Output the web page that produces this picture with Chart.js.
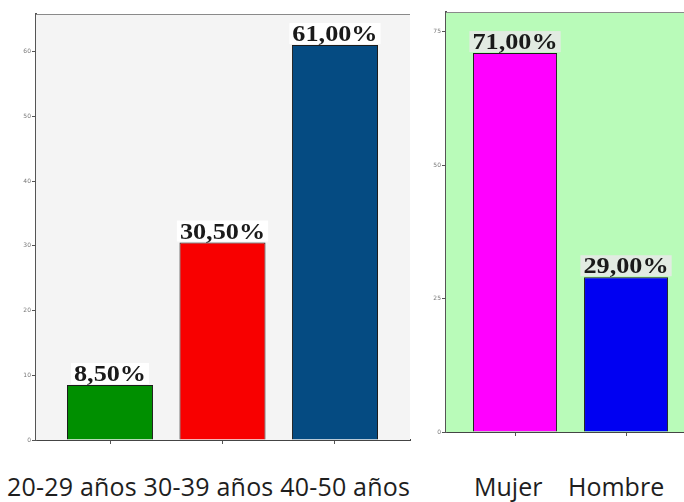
<!DOCTYPE html>
<html>
<head>
<meta charset="utf-8">
<script src="https://cdn.jsdelivr.net/npm/chart.js@4.4.1/dist/chart.umd.min.js"></script>
<style>
  html, body { margin: 0; padding: 0; background: #ffffff; }
  #page { position: relative; width: 684px; height: 502px; overflow: hidden; }
  .box { position: absolute; top: 0; }
  .caption { position: absolute; font-family: "Open Sans", sans-serif; font-size: 25px; color: #1e1e1e; white-space: nowrap; line-height: 30px; }
</style>
</head>
<body>
<div id="page">
  <div class="box" style="left:0; width:420px; height:450px;"><canvas id="edad"></canvas></div>
  <div class="box" style="left:420px; width:264px; height:450px;"><canvas id="sexo"></canvas></div>
  <div class="caption" id="capEdad" style="left:7px; top:471px; letter-spacing:0.2px;"></div>
  <div class="caption" id="capMujer" style="left:474px; top:471px;"></div>
  <div class="caption" id="capHombre" style="left:568px; top:471px;"></div>
</div>
<script>
// Age groups
const edadCategorias = ['20-29 años', '30-39 años', '40-50 años'];
const edadPorcentajes = [8.5, 30.5, 61.0];
const edadColores = ['#008f00', '#f80000', '#054b82'];
const edadTicks = [0, 10, 20, 30, 40, 50, 60];

// Sex
const sexoCategorias = ['Mujer', 'Hombre'];
const sexoPorcentajes = [71.0, 29.0];
const sexoColores = ['#ff00ff', '#0000f2'];
const sexoTicks = [0, 25, 50, 75];

document.getElementById('capEdad').textContent = edadCategorias.join(' ');
document.getElementById('capMujer').textContent = sexoCategorias[0];
document.getElementById('capHombre').textContent = sexoCategorias[1];

const fmt = v => v.toFixed(2).replace('.', ',') + '%';

// Plot background and top frame line
const marco = {
  id: 'marco',
  beforeDatasetsDraw(chart, args, opts) {
    const a = chart.chartArea, ctx = chart.ctx;
    ctx.save();
    ctx.fillStyle = opts.fondo;
    ctx.fillRect(a.left, a.top, a.right - a.left, a.bottom - a.top);
    ctx.strokeStyle = opts.linea;
    ctx.lineWidth = 1.2;
    ctx.beginPath();
    ctx.moveTo(a.left, a.top + 0.5);
    ctx.lineTo(a.right, a.top + 0.5);
    ctx.stroke();
    ctx.restore();
  }
};

// Percentage labels on a boxed background above each bar
const etiquetas = {
  id: 'etiquetas',
  afterDatasetsDraw(chart, args, opts) {
    const ctx = chart.ctx;
    const meta = chart.getDatasetMeta(0);
    const vals = chart.data.datasets[0].data;
    const ancho = 1.14;
    ctx.save();
    ctx.font = 'bold 23px "Liberation Serif", "Times New Roman", serif';
    ctx.textAlign = 'center';
    ctx.textBaseline = 'alphabetic';
    meta.data.forEach((bar, i) => {
      const txt = fmt(vals[i].y);
      const w = ctx.measureText(txt).width * ancho;
      const base = bar.y - 4;
      ctx.fillStyle = opts.fondo;
      ctx.fillRect(bar.x - w / 2 - 3, base - 18, w + 6, 21);
      ctx.save();
      ctx.translate(bar.x, base);
      ctx.scale(ancho, 1);
      ctx.fillStyle = '#1a1a1a';
      ctx.fillText(txt, 0, 0);
      ctx.restore();
    });
    ctx.restore();
  }
};

function grafico(id, cats, vals, colores, ticks, yMax, xMin, xMax, ejeAncho, ejeAlto, pad, fondo, fondoEtiqueta, barPct) {
  return new Chart(document.getElementById(id), {
    type: 'bar',
    data: {
      labels: cats,
      datasets: [{
        data: vals.map((v, i) => ({ x: i, y: v })),
        backgroundColor: colores,
        borderColor: '#1c1c1c',
        borderWidth: 1,
        borderSkipped: 'bottom',
        barPercentage: barPct,
        categoryPercentage: 1
      }]
    },
    options: {
      responsive: true,
      maintainAspectRatio: false,
      animation: false,
      layout: { padding: pad },
      plugins: {
        legend: { display: false },
        tooltip: { enabled: false },
        marco: { fondo: fondo, linea: '#8a8a8a' },
        etiquetas: { fondo: fondoEtiqueta }
      },
      scales: {
        x: {
          type: 'linear',
          offset: false,
          min: xMin,
          max: xMax,
          afterBuildTicks: s => { s.ticks = cats.map((c, i) => ({ value: i })); },
          afterFit: s => { s.height = ejeAlto; },
          ticks: { display: false },
          grid: { display: true, offset: false, drawOnChartArea: false, drawTicks: true, tickLength: 4, color: '#555' },
          border: { display: true, color: '#444', width: 2 }
        },
        y: {
          min: 0,
          max: yMax,
          afterBuildTicks: s => { s.ticks = ticks.map(v => ({ value: v })); },
          afterFit: s => { s.width = ejeAncho; },
          ticks: { font: { size: 6, family: 'DejaVu Sans' }, color: '#777', padding: 1 },
          grid: { display: true, drawOnChartArea: false, drawTicks: true, tickLength: 4, color: '#555' },
          border: { display: true, color: '#555', width: 2 }
        }
      }
    },
    plugins: [marco, etiquetas]
  });
}

grafico('edad', edadCategorias, edadPorcentajes, edadColores, edadTicks, 65.8, -0.658, 2.667,
        36, 10, { top: 14, right: 10, left: 0, bottom: 0 }, '#f4f4f4', '#ffffff', 0.765);
grafico('sexo', sexoCategorias, sexoPorcentajes, sexoColores, sexoTicks, 78.7, -0.622, 1.522,
        26, 18, { top: 12, right: 0, left: 0, bottom: 0 }, '#b9fbb9', '#e2ebe2', 0.757);
</script>
</body>
</html>
